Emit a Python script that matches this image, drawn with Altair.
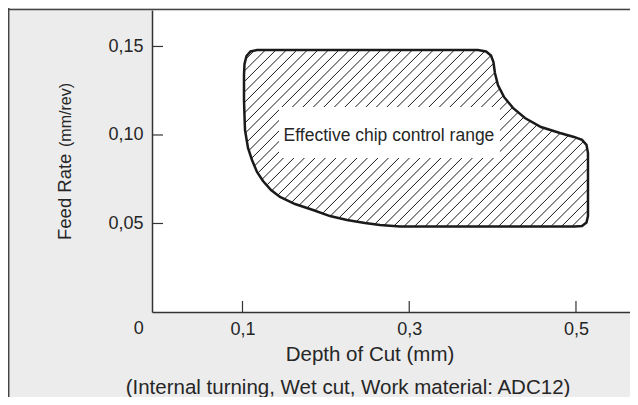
import altair as alt
import pandas as pd

# Outline of the "effective chip control range", clockwise
depth = [0.1018, 0.1018, 0.1024, 0.1048, 0.1096, 0.1174, 0.1690, 0.2889, 0.3825,
         0.3921, 0.3981, 0.4010, 0.4028, 0.4064, 0.4136, 0.4244, 0.4388, 0.4580,
         0.4808, 0.4976, 0.5072, 0.5126, 0.5144, 0.5144, 0.5144, 0.5126, 0.5072,
         0.4988, 0.4088, 0.3129, 0.2889, 0.2649, 0.2469, 0.2253, 0.2049, 0.1846,
         0.1630, 0.1450, 0.1342, 0.1246, 0.1174, 0.1114, 0.1066, 0.1030, 0.1024]
feed = [0.1198, 0.1339, 0.1401, 0.1446, 0.1472, 0.1480, 0.1480, 0.1480, 0.1480,
        0.1472, 0.1449, 0.1412, 0.1350, 0.1282, 0.1215, 0.1153, 0.1096, 0.1045,
        0.1011, 0.0989, 0.0972, 0.0944, 0.0898, 0.0689, 0.0542, 0.0506, 0.0486,
        0.0483, 0.0483, 0.0483, 0.0483, 0.0492, 0.0503, 0.0520, 0.0542, 0.0576,
        0.0610, 0.0650, 0.0689, 0.0740, 0.0791, 0.0859, 0.0927, 0.1028, 0.1107]

x_ticks = [0.1, 0.3, 0.5]
y_ticks = [0.05, 0.10, 0.15]

label_text = ["Effective chip control range"]
label_box = {"x": [0.1438], "x2": [0.4088], "y": [0.0870], "y2": [0.1158]}
label_pos = {"x": [0.2757], "y": [0.0995]}

x_title = ["Depth of Cut (mm)"]
y_title_main = ["Feed Rate"]
y_title_unit = ["(mm/rev)"]
note = ["(Internal turning, Wet cut, Work material: ADC12)"]
origin_label = ["0"]

X_DOMAIN = [-0.00855, 0.5648]
Y_DOMAIN = [0.0, 0.1706]
W, H = 478, 302
HATCH_STEP = 10.5
FONT = "Liberation Sans"
INK = "#262626"

# ---- hatch segments clipped to the outline (computed in pixel space) ----
def to_px(x, y):
    px = (x - X_DOMAIN[0]) / (X_DOMAIN[1] - X_DOMAIN[0]) * W
    py = (1 - (y - Y_DOMAIN[0]) / (Y_DOMAIN[1] - Y_DOMAIN[0])) * H
    return px, py

def to_data(px, py):
    x = X_DOMAIN[0] + px / W * (X_DOMAIN[1] - X_DOMAIN[0])
    y = Y_DOMAIN[0] + (1 - py / H) * (Y_DOMAIN[1] - Y_DOMAIN[0])
    return x, y

poly = [to_px(a, b) for a, b in zip(depth, feed)]
sums = [p[0] + p[1] for p in poly]
segs = []
c = min(sums) + 3.0
n = len(poly)
while c < max(sums):
    xs = []
    for i in range(n):
        (x1, y1), (x2, y2) = poly[i], poly[(i + 1) % n]
        s1, s2 = x1 + y1 - c, x2 + y2 - c
        if (s1 > 0) != (s2 > 0):
            t = s1 / (s1 - s2)
            xs.append(x1 + t * (x2 - x1))
    xs.sort()
    for j in range(0, len(xs) - 1, 2):
        xa, xb = xs[j], xs[j + 1]
        da = to_data(xa, c - xa)
        db = to_data(xb, c - xb)
        segs.append({"x": da[0], "y": da[1], "x2": db[0], "y2": db[1]})
    c += HATCH_STEP

hatch_df = pd.DataFrame(segs)
outline_df = pd.DataFrame({"depth": depth, "feed": feed, "i": list(range(len(depth)))})

xs_ = alt.Scale(domain=X_DOMAIN, nice=False, zero=False)
ys_ = alt.Scale(domain=Y_DOMAIN, nice=False, zero=False)

x_axis = alt.Axis(values=x_ticks, labelExpr="replace(format(datum.value, '.1f'), '.', ',')",
                  ticks=False, grid=False, domainColor="#333333", domainWidth=1.5,
                  labelFontSize=18, labelColor=INK, labelFont=FONT, labelPadding=8,
                  title=None)
y_axis = alt.Axis(values=y_ticks, labelExpr="replace(format(datum.value, '.2f'), '.', ',')",
                  ticks=False, grid=False, domainColor="#333333", domainWidth=1.5,
                  labelFontSize=18, labelColor=INK, labelFont=FONT, labelPadding=9,
                  title=None)

def X(f):
    return alt.X(f, scale=xs_, axis=x_axis)

def Y(f):
    return alt.Y(f, scale=ys_, axis=y_axis)

hatch = alt.Chart(hatch_df).mark_rule(color="#1a1a1a", strokeWidth=1).encode(
    x=X("x:Q"), y=Y("y:Q"), x2="x2:Q", y2="y2:Q")

box = alt.Chart(pd.DataFrame(label_box)).mark_rect(color="white").encode(
    x=X("x:Q"), x2="x2:Q", y=Y("y:Q"), y2="y2:Q")

outline = alt.Chart(outline_df).mark_line(color="#1a1a1a", strokeWidth=2.5,
                                          interpolate="linear-closed").encode(
    x=X("depth:Q"), y=Y("feed:Q"), order="i:Q")

label = alt.Chart(pd.DataFrame({"t": label_text, **label_pos})).mark_text(
    font=FONT, fontSize=17.5, color=INK, baseline="middle", align="center").encode(
    x=X("x:Q"), y=Y("y:Q"), text="t:N")

yt = alt.Chart(pd.DataFrame({"v": y_ticks})).mark_rule(color="#333333", strokeWidth=1.2).encode(
    y=Y("v:Q"), x=alt.value(0), x2=alt.value(11))
xt = alt.Chart(pd.DataFrame({"v": x_ticks})).mark_rule(color="#333333", strokeWidth=1.2).encode(
    x=X("v:Q"), y=alt.value(H), y2=alt.value(H - 11))

origin = alt.Chart(pd.DataFrame({"v": [0.0], "t": origin_label})).mark_text(
    font=FONT, fontSize=18, color=INK, baseline="top", align="center", dx=-20.5).encode(
    x=X("v:Q"), y=alt.value(H + 8), text="t:N")

xtitle = alt.Chart(pd.DataFrame({"t": x_title})).mark_text(
    font=FONT, fontSize=20.5, color=INK, baseline="alphabetic", align="center").encode(
    x=alt.value(218), y=alt.value(351), text="t:N")
notet = alt.Chart(pd.DataFrame({"t": note})).mark_text(
    font=FONT, fontSize=20.5, color=INK, baseline="alphabetic", align="center").encode(
    x=alt.value(196), y=alt.value(384), text="t:N")
ytitle1 = alt.Chart(pd.DataFrame({"t": y_title_main})).mark_text(
    font=FONT, fontSize=18.5, color=INK, baseline="alphabetic", align="left", angle=270).encode(
    x=alt.value(-81), y=alt.value(230), text="t:N")
ytitle2 = alt.Chart(pd.DataFrame({"t": y_title_unit})).mark_text(
    font=FONT, fontSize=16, color=INK, baseline="alphabetic", align="left", angle=270).encode(
    x=alt.value(-81), y=alt.value(137), text="t:N")

frame_left = alt.Chart(pd.DataFrame({"k": [1]})).mark_rule(color="#444444", strokeWidth=1.5).encode(
    x=alt.value(-143.3), y=alt.value(-2), y2=alt.value(H + 85))
frame_top = alt.Chart(pd.DataFrame({"k": [1]})).mark_rule(color="#444444", strokeWidth=1.5).encode(
    y=alt.value(-0.5), x=alt.value(-144), x2=alt.value(W))

chart = alt.layer(hatch, box, outline, label, yt, xt, origin, xtitle, notet,
                  ytitle1, ytitle2, frame_left, frame_top).properties(
    width=W, height=H,
    padding={"left": 144, "top": 2, "right": 0, "bottom": 85},
    autosize=alt.AutoSizeParams(type="none"),
).configure(background="#ececec", font=FONT).configure_view(fill="white", strokeWidth=0)

chart.save("out.html", embed_options={"renderer": "svg", "actions": False})
